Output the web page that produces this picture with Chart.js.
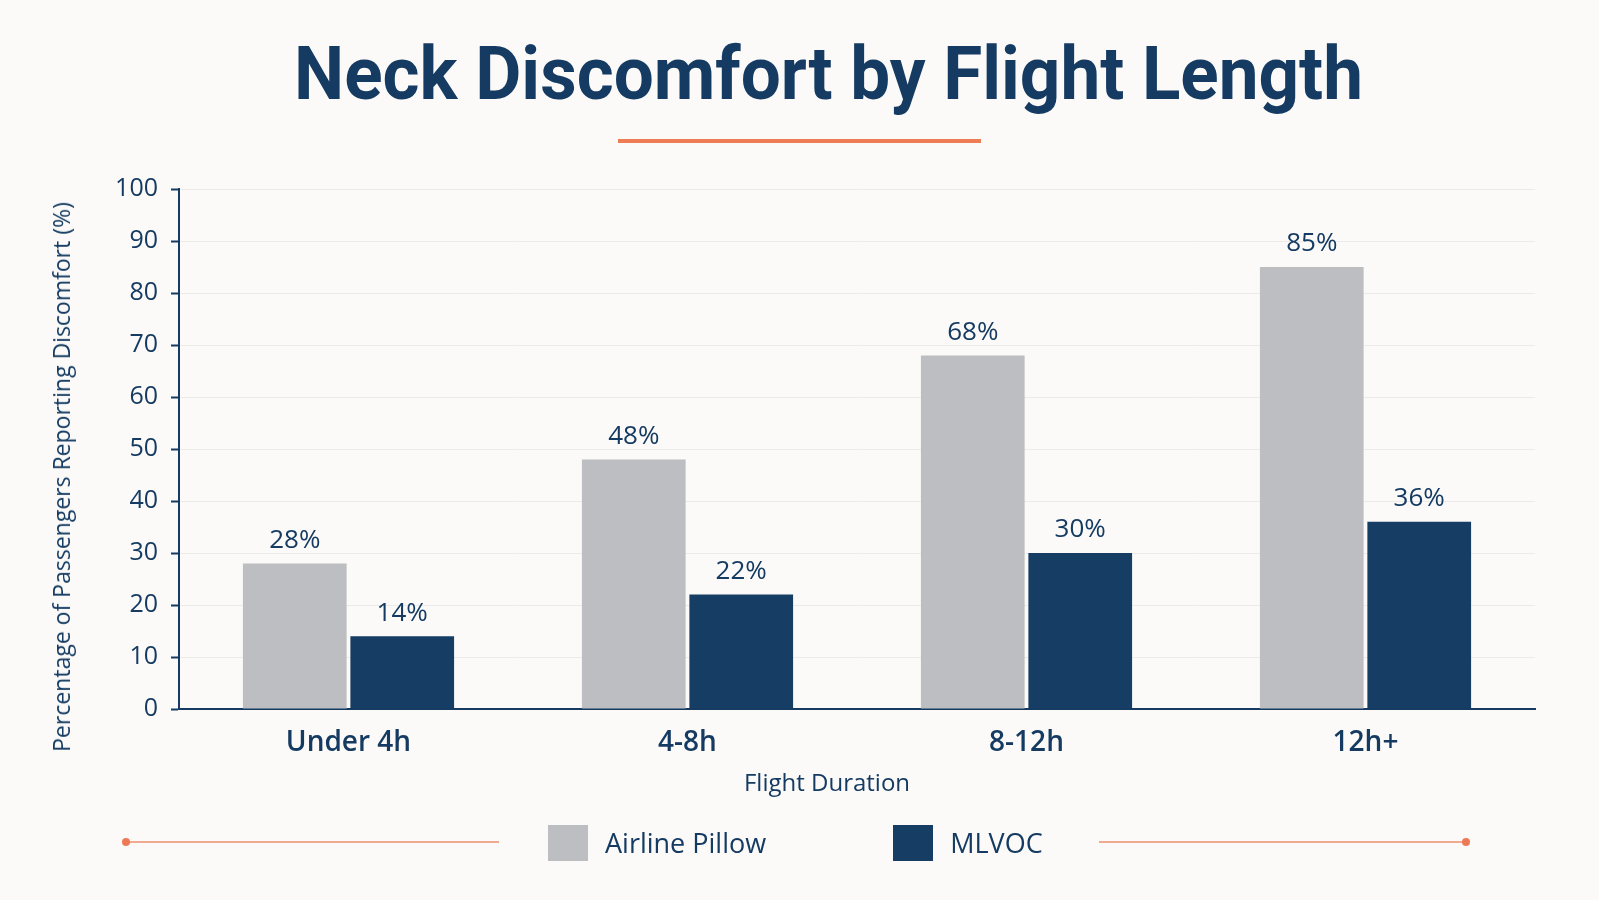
<!DOCTYPE html>
<html>
<head>
<meta charset="utf-8">
<script src="https://cdn.jsdelivr.net/npm/chart.js@4.4.1/dist/chart.umd.min.js"></script>
<style>
  body { margin: 0; background: #fbfaf8; }
  #wrap { position: relative; width: 1599px; height: 900px; overflow: hidden; }
  #chart { position: absolute; left: 0; top: 0; }
  #title {
    position: absolute; left: 0; top: 37px; width: 1599px; text-align: center;
    font-family: Roboto, sans-serif; font-weight: 700; font-size: 74px; line-height: 1;
    color: #153b62; transform: translateX(29px) scaleX(0.96);
  }
  #ytitle {
    position: absolute; left: 61px; top: 477px; white-space: nowrap;
    font-family: 'Open Sans', sans-serif; font-size: 23px; color: #153b62;
    transform: translate(-50%, -50%) rotate(-90deg);
  }
  #xtitle {
    position: absolute; left: 827px; top: 781px; white-space: nowrap;
    font-family: 'Open Sans', sans-serif; font-size: 24px; color: #153b62;
    transform: translate(-50%, -50%);
  }
  #underline { position: absolute; left: 618px; top: 139px; width: 363px; height: 4px; background: #ee7c55; }
  #legend {
    position: absolute; left: 548px; top: 824px; display: flex; align-items: center; gap: 127px;
    font-family: 'Open Sans', sans-serif; font-size: 27px; font-weight: 500; color: #153b62;
  }
  .item { display: flex; align-items: center; }
  .box { width: 40px; height: 36px; margin-right: 17px; }
  .deco { position: absolute; top: 841px; height: 2px; background: #f1aa8f; }
  .dot { position: absolute; top: 838px; width: 8px; height: 8px; border-radius: 50%; background: #ee7a55; }
</style>
</head>
<body>
<div id="wrap">
  <canvas id="chart" width="1599" height="900"></canvas>
  <div id="title">Neck Discomfort by Flight Length</div>
  <div id="underline"></div>
  <div id="ytitle">Percentage of Passengers Reporting Discomfort (%)</div>
  <div id="xtitle">Flight Duration</div>
  <div class="deco" style="left:126px;width:373px"></div>
  <div class="dot" style="left:122px"></div>
  <div class="deco" style="left:1099px;width:367px"></div>
  <div class="dot" style="left:1462px"></div>
  <div id="legend"></div>
</div>
<script>
// categories and values
var categories = ["Under 4h", "4-8h", "8-12h", "12h+"];
var airlinePillow = [28, 48, 68, 85];
var mlvoc = [14, 22, 30, 36];
var seriesNames = ["Airline Pillow", "MLVOC"];
var seriesColors = ["#bdbec1", "#163d64"];

var navy = "#153b62";
Chart.defaults.font.family = "'Open Sans', sans-serif";
Chart.defaults.color = navy;

// value labels above each bar
var valueLabels = {
  id: "valueLabels",
  afterDatasetsDraw: function (chart) {
    var ctx = chart.ctx;
    ctx.save();
    ctx.font = "500 26px 'Open Sans', sans-serif";
    ctx.fillStyle = navy;
    ctx.textAlign = "center";
    ctx.textBaseline = "bottom";
    chart.data.datasets.forEach(function (ds, i) {
      chart.getDatasetMeta(i).data.forEach(function (bar, j) {
        ctx.fillText(ds.data[j] + "%", bar.x, bar.y - 10);
      });
    });
    ctx.restore();
  },
};

var ctx = document.getElementById("chart").getContext("2d");
var chart = new Chart(ctx, {
  type: "bar",
  data: {
    labels: categories,
    datasets: [
      { label: seriesNames[0], data: airlinePillow, backgroundColor: seriesColors[0] },
      { label: seriesNames[1], data: mlvoc, backgroundColor: seriesColors[1] },
    ],
  },
  options: {
    responsive: false,
    animation: false,
    categoryPercentage: 0.634,
    barPercentage: 0.965,
    layout: { padding: { top: 189, left: 35, right: 64, bottom: 91 } },
    plugins: { legend: { display: false }, tooltip: { enabled: false } },
    scales: {
      x: {
        grid: { display: false, drawTicks: false },
        border: { display: true, color: navy, width: 2 },
        ticks: { font: { size: 28, weight: "600" }, color: navy, padding: 17 },
        afterFit: function (scale) { scale.height = 100; },
      },
      y: {
        min: 0, max: 100,
        ticks: { stepSize: 10, font: { size: 25, weight: "500" }, color: navy, padding: 13 },
        grid: { color: "#ecebea", lineWidth: 1, tickLength: 8, tickColor: navy, tickWidth: 2 },
        border: { display: true, color: navy, width: 2 },
        afterFit: function (scale) { scale.width = 144; },
      },
    },
  },
  plugins: [valueLabels],
});

// legend built from the series names
var legend = document.getElementById("legend");
seriesNames.forEach(function (name, i) {
  var item = document.createElement("div");
  item.className = "item";
  item.innerHTML = '<div class="box" style="background:' + seriesColors[i] + '"></div><span>' + name + "</span>";
  legend.appendChild(item);
});
</script>
</body>
</html>
